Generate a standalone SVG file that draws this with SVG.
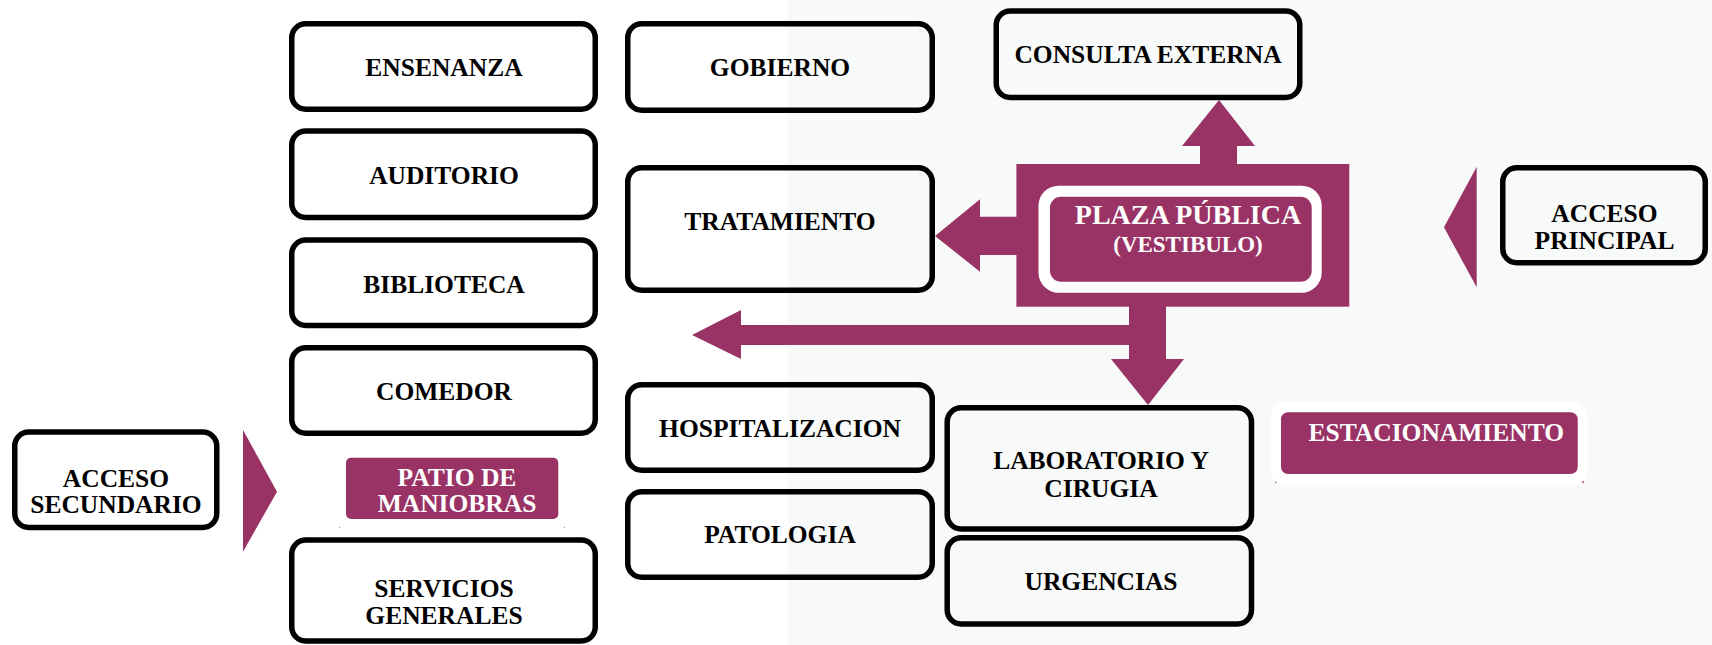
<svg xmlns="http://www.w3.org/2000/svg" width="1712" height="645" viewBox="0 0 1712 645">
<style>
.box{fill:none;stroke:#000;stroke-width:5.5}
.lbl{font-family:"Liberation Serif","Times New Roman",serif;font-weight:bold;font-size:25.5px;text-anchor:middle;fill:#000}
.wl{fill:#fff}
.mag{fill:#993366}
.frame{fill:#fff}
</style>
<rect x="0" y="0" width="1712" height="645" fill="#ffffff"/>
<rect x="788" y="0" width="924" height="645" fill="#f8f9f9"/>

<g id="connectors">
  <polygon class="mag" points="1200,165 1200,146 1182,146 1219,100 1255,146 1237,146 1237,165"/>
  <polygon class="mag" points="1017,216.7 980,216.7 980,199.3 935,236 980,271.7 980,255 1017,255"/>
  <polygon class="mag" points="1166,306 1166,359 1184,359 1148,405 1111,359 1129,359 1129,345 741,345 741,359 692,335 741,310 741,325 1129,325 1129,306"/>
  <polygon class="mag" points="1476.7,166.7 1476.7,287.3 1444,227.3"/>
  <polygon class="mag" points="243,430 243,551.7 277,491.7"/>
</g>

<g id="ensenanza"><rect class="box" x="291.75" y="23.75" width="303.5" height="85.5" rx="14"/><text class="lbl" x="444" y="76">ENSENANZA</text></g>
<g id="auditorio"><rect class="box" x="291.75" y="131" width="303.5" height="86.5" rx="14"/><text class="lbl" x="444" y="183.5">AUDITORIO</text></g>
<g id="biblioteca"><rect class="box" x="291.75" y="240" width="303.5" height="85.5" rx="14"/><text class="lbl" x="444" y="292.5">BIBLIOTECA</text></g>
<g id="comedor"><rect class="box" x="291.75" y="347.75" width="303.5" height="85.5" rx="14"/><text class="lbl" x="444" y="400">COMEDOR</text></g>
<g id="servicios-generales"><rect class="box" x="291.75" y="540" width="303.5" height="101" rx="14"/><text class="lbl" x="444" y="596.5">SERVICIOS</text><text class="lbl" x="444" y="624">GENERALES</text></g>

<g id="patio-maniobras">
  <rect class="mag" x="339" y="490" width="226" height="38"/>
  <rect class="frame" x="335" y="447" width="234" height="83" rx="12"/>
  <rect class="mag" x="346" y="457.7" width="212.3" height="61.3" rx="5"/>
  <text class="lbl wl" x="457" y="485.7">PATIO DE</text>
  <text class="lbl wl" x="457" y="512.3">MANIOBRAS</text>
</g>

<g id="acceso-secundario"><rect class="box" x="14.75" y="432" width="202" height="95.5" rx="14"/><text class="lbl" x="116" y="486.7">ACCESO</text><text class="lbl" x="116" y="513.3">SECUNDARIO</text></g>

<g id="gobierno"><rect class="box" x="627.75" y="23.75" width="304.5" height="86.5" rx="14"/><text class="lbl" x="780" y="76">GOBIERNO</text></g>
<g id="tratamiento"><rect class="box" x="627.75" y="167.75" width="304.5" height="122.5" rx="14"/><text class="lbl" x="780" y="230">TRATAMIENTO</text></g>
<g id="hospitalizacion"><rect class="box" x="627.75" y="384.75" width="304.5" height="85.5" rx="14"/><text class="lbl" x="780" y="436.7">HOSPITALIZACION</text></g>
<g id="patologia"><rect class="box" x="627.75" y="491.75" width="304.5" height="85.5" rx="14"/><text class="lbl" x="780" y="543.3">PATOLOGIA</text></g>

<g id="consulta-externa"><rect class="box" x="996.25" y="11" width="303.5" height="86.5" rx="14"/><text class="lbl" x="1148" y="63.3">CONSULTA EXTERNA</text></g>

<g id="plaza-publica">
  <rect class="mag" x="1016.4" y="164" width="332.9" height="142.7"/>
  <rect class="frame" x="1038.5" y="185.7" width="283.2" height="107" rx="20"/>
  <rect class="mag" x="1050" y="196.7" width="261.7" height="85" rx="11"/>
  <text class="lbl wl" x="1188" y="224" style="font-size:28px">PLAZA PÚBLICA</text>
  <text class="lbl wl" x="1188" y="251.7" style="font-size:23px">(VESTIBULO)</text>
</g>

<g id="acceso-principal"><rect class="box" x="1502.75" y="167.75" width="202.5" height="95" rx="14"/><text class="lbl" x="1604.5" y="222.3">ACCESO</text><text class="lbl" x="1604.5" y="249.3">PRINCIPAL</text></g>

<g id="laboratorio-cirugia"><rect class="box" x="947.2" y="407.75" width="304.3" height="121.2" rx="14"/><text class="lbl" x="1101" y="469.3">LABORATORIO Y</text><text class="lbl" x="1101" y="496.7">CIRUGIA</text></g>
<g id="urgencias"><rect class="box" x="947.2" y="537.75" width="304.3" height="86.2" rx="14"/><text class="lbl" x="1101" y="590">URGENCIAS</text></g>

<g id="estacionamiento">
  <rect class="mag" x="1275" y="440" width="309" height="42.7"/>
  <rect class="frame" x="1270.7" y="401.7" width="317" height="83.3" rx="14"/>
  <rect class="mag" x="1281" y="412.3" width="296.7" height="61.7" rx="7"/>
  <text class="lbl wl" x="1436.3" y="440.7">ESTACIONAMIENTO</text>
</g>
</svg>
